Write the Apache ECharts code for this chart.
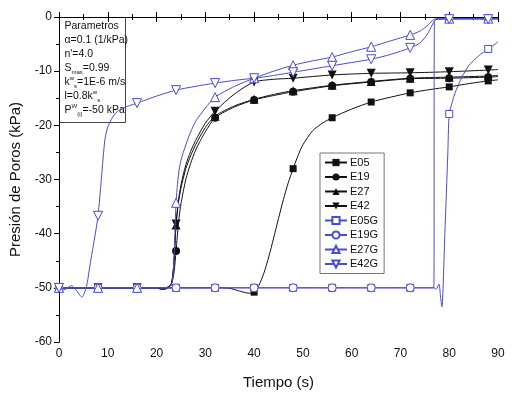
<!DOCTYPE html>
<html>
<head>
<meta charset="utf-8">
<script src="https://cdn.jsdelivr.net/npm/echarts@6/dist/echarts.min.js"></script>
<style>
  html, body { margin: 0; padding: 0; background: #fff; }
  #main { width: 524px; height: 396px; }
</style>
</head>
<body>
<div id="main"></div>
<script>
// tiempos (s) y presiones (kPa)
const tE05 = [0, 8, 16, 24, 32, 35, 37, 39, 40, 41, 42, 43, 44, 45, 46, 47, 48, 49, 50, 52, 54, 56, 60, 64, 68, 72, 76, 80, 84, 88, 90];
const pE05 = [-50, -50, -50, -50, -50, -50.1, -50.6, -51, -50.8, -49.5, -47.3, -44.3, -40.8, -37.2, -33.7, -30.6, -28, -25.6, -23.6, -21, -19.6, -18.6, -17, -15.7, -14.8, -14, -13.4, -12.9, -12.3, -11.8, -11.6];

const tE19 = [0, 8, 16, 20, 21, 22, 23, 23.6, 24, 24.5, 25, 26, 27, 28, 29, 30, 32, 36, 40, 44, 48, 56, 64, 72, 80, 88, 90];
const pE19 = [-50, -50, -50, -50, -50.3, -50.2, -49.5, -47, -43.2, -38, -34.5, -30, -27, -24.6, -22.8, -21.2, -18.6, -16.6, -15.3, -14.5, -13.8, -12.7, -12, -11.4, -11.3, -11.1, -11];

const tE27 = [0, 8, 16, 20, 21, 22, 23, 23.5, 24, 24.5, 25, 26, 27, 28, 30, 32, 36, 40, 44, 48, 56, 64, 72, 80, 88, 90];
const pE27 = [-50, -50, -50, -50, -50.2, -50, -49.3, -46, -38.4, -34.2, -31.6, -28, -25.6, -23.6, -20.4, -18.3, -16.4, -15.2, -14.3, -13.6, -12.6, -11.9, -11.3, -11.1, -10.9, -10.8];

const tE42 = [0, 8, 16, 20, 21, 22, 23, 23.5, 24, 24.5, 25, 26, 27, 28, 30, 32, 36, 40, 44, 48, 56, 64, 72, 80, 88, 90];
const pE42 = [-50, -50, -50, -50, -50.2, -50, -49.3, -46, -38.2, -33.8, -31, -27.3, -24.8, -22.8, -19.6, -17.4, -14.2, -12, -11.5, -11.3, -10.7, -10.4, -10.3, -10.1, -9.8, -9.7];

const tE05G = [0, 8, 16, 24, 32, 40, 48, 56, 64, 72, 76.9, 77.3, 77.9, 78.2, 78.5, 79.1, 79.7, 80, 80.6, 81.2, 82.6, 84, 86, 88, 90];
const pE05G = [-50, -50, -50, -50, -50, -50, -50, -50, -50, -50, -50, -50.3, -49.3, -51.5, -53.5, -40, -25.5, -17.9, -15.8, -14, -11.1, -9, -7.2, -5.9, -4.6];

const tE19G = [0, 8, 16, 24, 32, 40, 48, 56, 64, 72, 76.85, 76.95, 77.3, 78, 80, 88, 90];
const pE19G = [-50, -50, -50, -50, -50, -50, -50, -50, -50, -50, -50, -1, -0.4, -0.3, -0.3, -0.3, -0.3];

const tE27G = [0, 8, 16, 22, 23, 23.5, 24, 24.5, 25, 26, 27, 28, 30, 32, 36, 40, 44, 48, 52, 56, 60, 64, 68, 72, 74, 75.5, 76.5, 77.2, 80, 88, 90];
const pE27G = [-50, -50, -50, -50, -49.5, -46, -34.3, -29, -26.5, -23.6, -21.2, -19.3, -16.8, -14.8, -12.8, -11.3, -10, -8.9, -8.1, -7.4, -6.4, -5.5, -4.4, -3.3, -2.6, -1.6, -0.7, -0.3, -0.3, -0.3, -0.3];

const tE42G = [0, 1, 2.5, 3.5, 4.7, 5.2, 5.7, 6.5, 7.3, 8, 8.7, 9.4, 10, 11, 12, 14, 16, 20, 24, 28, 32, 36, 40, 44, 48, 52, 56, 60, 64, 68, 72, 74, 75.5, 76.5, 77.2, 80, 88, 90];
const pE42G = [-50, -50.4, -49.6, -50.4, -51.7, -51, -49.5, -45, -40.8, -36.7, -29.8, -22.7, -20.3, -18.5, -17.4, -16.5, -15.9, -14.6, -13.5, -12.8, -12.2, -11.7, -11.3, -10.8, -10.2, -9.6, -9, -8.4, -7.8, -6.9, -5.7, -4.8, -3.2, -1.5, -0.5, -0.4, -0.4, -0.4];

const xTicks = [0, 10, 20, 30, 40, 50, 60, 70, 80, 90];
const yTicks = [-60, -50, -40, -30, -20, -10, 0];

const black = '#111';
const blue = '#4a4ad2';
const triDown = 'path://M0,0 L10,0 L5,9 Z';

// marcador solo cada 8 s
function pts(t, p) {
  return t.map((x, i) => ({ value: [x, p[i]], symbol: x % 8 === 0 ? undefined : 'none' }));
}

function mk(name, t, p, shape, color, open, size) {
  return {
    name: name,
    type: 'line',
    smooth: 0.25,
    data: pts(t, p),
    symbol: shape,
    symbolSize: size,
    showAllSymbol: true,
    lineStyle: { color: color, width: 1 },
    itemStyle: open ? { color: '#fff', borderColor: color, borderWidth: 1 } : { color: color },
    emphasis: { disabled: true },
    z: open ? 4 : 3
  };
}

const chart = echarts.init(document.getElementById('main'));

chart.setOption({
  animation: false,
  textStyle: { fontFamily: 'Liberation Sans, Arial, sans-serif' },
  grid: { left: 59, right: 26, top: 17, bottom: 54 },
  legend: {
    orient: 'vertical',
    left: 320,
    top: 153,
    itemWidth: 22,
    itemHeight: 9,
    itemGap: 1.5,
    padding: [3, 6, 3, 4],
    borderColor: '#777',
    borderWidth: 1,
    backgroundColor: '#fff',
    textStyle: { fontSize: 11, lineHeight: 13, color: '#111', padding: [0, 0, 0, -2] },
    data: ['E05', 'E19', 'E27', 'E42', 'E05G', 'E19G', 'E27G', 'E42G']
  },
  xAxis: [{
    type: 'value',
    min: xTicks[0],
    max: xTicks[xTicks.length - 1],
    interval: 10,
    name: 'Tiempo (s)',
    nameLocation: 'middle',
    nameGap: 33,
    nameTextStyle: { fontSize: 15, color: '#111' },
    axisLine: { lineStyle: { color: '#000', width: 1 } },
    axisTick: { inside: true, length: 5, lineStyle: { color: '#000' } },
    minorTick: { show: true, splitNumber: 2, length: 3, lineStyle: { color: '#000' } },
    axisLabel: { fontSize: 12, color: '#111', margin: 6 },
    splitLine: { show: false }
  }, {
    type: 'value',
    position: 'top',
    min: 0, max: 90, interval: 10,
    axisLine: { lineStyle: { color: '#000', width: 1 } },
    axisTick: { inside: true, length: 5, lineStyle: { color: '#000' } },
    minorTick: { show: true, splitNumber: 2, length: 3, lineStyle: { color: '#000' } },
    axisLabel: { show: false },
    splitLine: { show: false }
  }],
  yAxis: [{
    type: 'value',
    min: yTicks[0],
    max: yTicks[yTicks.length - 1],
    interval: 10,
    name: 'Presión de Poros (kPa)',
    nameLocation: 'middle',
    nameGap: 34,
    nameTextStyle: { fontSize: 15, color: '#111' },
    axisLine: { show: true, lineStyle: { color: '#000', width: 1 } },
    axisTick: { show: true, length: 5, lineStyle: { color: '#000' } },
    minorTick: { show: true, splitNumber: 2, length: 3, lineStyle: { color: '#000' } },
    axisLabel: { fontSize: 12, color: '#111', margin: 7 },
    splitLine: { show: false }
  }, {
    type: 'value',
    position: 'right',
    min: -60, max: 0, interval: 10,
    axisLine: { show: true, lineStyle: { color: '#000', width: 1 } },
    axisTick: { show: true, inside: true, length: 5, lineStyle: { color: '#000' } },
    minorTick: { show: true, splitNumber: 2, length: 3, lineStyle: { color: '#000' } },
    axisLabel: { show: false },
    splitLine: { show: false }
  }],
  graphic: [{
    type: 'group',
    left: 59,
    top: 17,
    z: 10,
    children: [{
      type: 'rect',
      shape: { x: 0, y: 0, width: 66, height: 105 },
      style: { fill: '#fff', stroke: '#444', lineWidth: 1 }
    }, {
      type: 'text',
      x: 5,
      y: 2,
      style: {
        text: 'Parametros\nα=0.1 (1/kPa)\nn\'=4.0\nS{sub|max}=0.99\nk{sup|w}{sub|s}=1E-6 m/s\nl=0.8k{sup|w}{sub|s}\nP{sup|W}{sub|(i)}=-50 kPa',
        fontSize: 10.5,
        lineHeight: 14,
        fill: '#111',
        fontFamily: 'Liberation Sans, Arial, sans-serif',
        rich: {
          sub: { fontSize: 6, lineHeight: 14, verticalAlign: 'bottom', padding: [6, 0, 0, 0] },
          sup: { fontSize: 6, lineHeight: 14, verticalAlign: 'top', padding: [0, 0, 6, 0] }
        }
      }
    }]
  }],
  series: [
    mk('E05', tE05, pE05, 'rect', black, false, 7),
    mk('E19', tE19, pE19, 'circle', black, false, 8),
    mk('E27', tE27, pE27, 'triangle', black, false, 9),
    mk('E42', tE42, pE42, triDown, black, false, 9),
    mk('E05G', tE05G, pE05G, 'rect', blue, true, 7),
    mk('E19G', tE19G, pE19G, 'circle', blue, true, 8),
    mk('E27G', tE27G, pE27G, 'triangle', blue, true, 9),
    mk('E42G', tE42G, pE42G, triDown, blue, true, 9)
  ]
});
</script>
</body>
</html>
